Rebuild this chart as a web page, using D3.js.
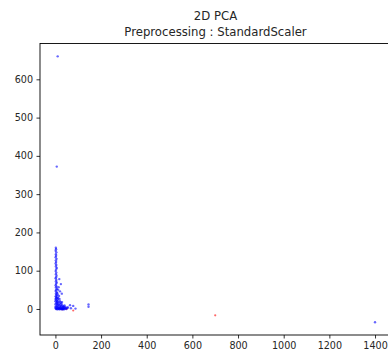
<!DOCTYPE html>
<html>
<head>
<meta charset="utf-8">
<script src="https://cdn.jsdelivr.net/npm/d3@7"></script>
<style>
  html, body { margin: 0; padding: 0; background: #fff; }
  svg { display: block; }
  text { font-family: "DejaVu Sans", sans-serif; fill: #262626; }
</style>
</head>
<body>
<script>
// Chart titles
const titleLines = ["2D PCA", "Preprocessing : StandardScaler"];

// Tick values for each axis
const xTicks = [0, 200, 400, 600, 800, 1000, 1200, 1400];
const yTicks = [0, 100, 200, 300, 400, 500, 600];

// Axis limits (data units)
const xLimits = [-67.5, 1470];
const yLimits = [-68, 693.6];

// Class 0 projections: [PC1, PC2]
const class0Points = [
  [10, 660], [6, 372], [1400, -34.7],
  [2, 160], [3, 156], [1, 152], [4, 148], [2, 143], [3, 139], [1, 135], [5, 131],
  [2, 127], [3, 123], [1, 119], [4, 115], [2, 111], [6, 107], [3, 103], [1, 99],
  [4, 95], [2, 91], [5, 87], [3, 83], [1, 80], [4, 76], [2, 72], [6, 69], [3, 66],
  [1, 62], [5, 59], [2, 56], [7, 53], [3, 50], [1, 47], [5, 44], [8, 42], [2, 40],
  [4, 37], [6, 35], [1, 33], [3, 31], [9, 30], [5, 28],
  [17, 78], [24, 65], [14, 57], [12, 50], [20, 46], [28, 40], [10, 38], [16, 34],
  [2, 25], [5, 22], [8, 20], [11, 24], [14, 18], [3, 15], [7, 13], [10, 16], [13, 12],
  [16, 10], [19, 14], [22, 9], [25, 7], [28, 11], [31, 5], [4, 8], [6, 5], [9, 3],
  [12, 6], [15, 4], [18, 2], [21, 5], [24, 3], [27, 1], [30, 2], [33, 4], [36, 1],
  [39, 3], [42, 1], [1, 2], [3, 0], [5, 1], [8, -1], [11, 0], [14, 1], [17, -1],
  [20, 0], [23, 1], [26, -1], [29, 0], [32, -1], [35, 0], [38, -1], [45, 2], [48, 0],
  [52, 3], [20, 20], [23, 17], [26, 14], [29, 18], [18, 26], [12, 28], [6, 18],
  [9, 10], [0, 5], [0, 12], [0, 20], [1, 27], [34, 8], [37, 6], [40, 9], [44, 5],
  [55, 4], [64, 10], [78, 8], [68, 2], [88, 1], [145, 12], [145, 6]
];

// Class 1 projections: [PC1, PC2]
const class1Points = [
  [700, -16.5], [30, -1], [49, 0], [78, -4]
];

const width = 388, height = 354;
const plot = { left: 40, right: 391, top: 43.5, bottom: 335 };

const svg = d3.select("body").append("svg")
  .attr("width", width)
  .attr("height", height);

const x = d3.scaleLinear().domain(xLimits).range([plot.left, plot.right]);
const y = d3.scaleLinear().domain(yLimits).range([plot.bottom, plot.top]);

// Points: class 1 underneath, class 0 on top
const pts = svg.append("g");
pts.selectAll("circle.c1")
  .data(class1Points)
  .join("circle")
  .attr("class", "c1")
  .attr("cx", d => x(d[0]))
  .attr("cy", d => y(d[1]))
  .attr("r", 1.1)
  .attr("fill", "#ff0000")
  .attr("fill-opacity", 0.6);

pts.selectAll("circle.c0")
  .data(class0Points)
  .join("circle")
  .attr("class", "c0")
  .attr("cx", d => x(d[0]))
  .attr("cy", d => y(d[1]))
  .attr("r", 1.2)
  .attr("fill", "#0000ff")
  .attr("fill-opacity", 0.6);

// Axes
const xAxis = d3.axisBottom(x).tickValues(xTicks).tickSize(3.5).tickPadding(3.5).tickFormat(d3.format("d"));
const yAxis = d3.axisLeft(y).tickValues(yTicks).tickSize(3.5).tickPadding(3.5).tickFormat(d3.format("d"));

const gx = svg.append("g").attr("transform", `translate(0,${plot.bottom})`).call(xAxis);
const gy = svg.append("g").attr("transform", `translate(${plot.left},0)`).call(yAxis);

[gx, gy].forEach(g => {
  g.select(".domain").remove();
  g.selectAll(".tick line").attr("stroke", "#000").attr("stroke-width", 0.8);
  g.selectAll(".tick text")
    .attr("font-family", "DejaVu Sans, sans-serif")
    .attr("font-size", 9.6)
    .attr("fill", "#262626");
});

// Frame around the plotting area
svg.append("rect")
  .attr("x", plot.left)
  .attr("y", plot.top)
  .attr("width", plot.right - plot.left)
  .attr("height", plot.bottom - plot.top)
  .attr("fill", "none")
  .attr("stroke", "#000")
  .attr("stroke-width", 0.9);

// Title
const cx = (plot.left + plot.right) / 2;
svg.append("text")
  .attr("x", cx).attr("y", 19.5)
  .attr("text-anchor", "middle")
  .attr("font-size", 11.7)
  .text(titleLines[0]);
svg.append("text")
  .attr("x", cx).attr("y", 35.5)
  .attr("text-anchor", "middle")
  .attr("font-size", 11.7)
  .text(titleLines[1]);
</script>
</body>
</html>
